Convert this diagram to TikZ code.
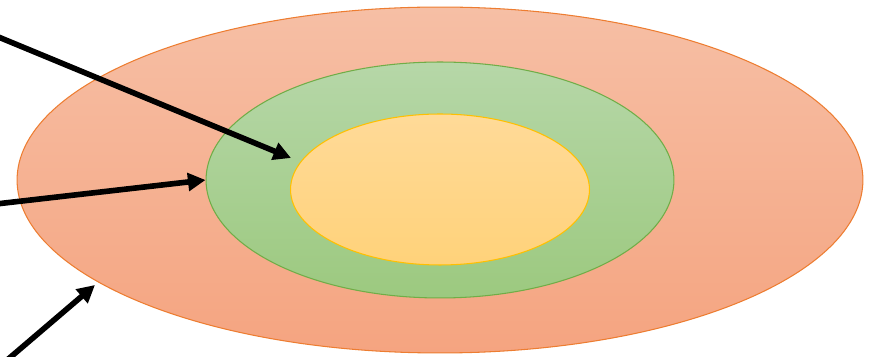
\documentclass[tikz,border=0pt]{standalone}
\usetikzlibrary{shapes.geometric,arrows.meta}
\definecolor{orline}{RGB}{237,125,49}
\definecolor{ortop}{RGB}{246,191,165}
\definecolor{orbot}{RGB}{245,164,128}
\definecolor{grline}{RGB}{112,173,71}
\definecolor{grtop}{RGB}{182,215,168}
\definecolor{grbot}{RGB}{156,201,127}
\definecolor{yeline}{RGB}{255,192,0}
\definecolor{yetop}{RGB}{255,218,152}
\definecolor{yebot}{RGB}{255,210,122}
\begin{document}
\begin{tikzpicture}[x=0.02cm,y=-0.02cm,
    ring/.style = {ellipse, draw, inner sep=0pt, line width=0.6pt},
    pointer/.style = {line width=3.2pt, -{Triangle[length=10pt,width=10pt]}}]
    \useasboundingbox (0,0) rectangle (869,357);
    \node[ring, draw=orline, top color=ortop, bottom color=orbot, minimum width=16.92cm, minimum height=6.92cm] (outer) at (440,180) {};
    \node[ring, draw=grline, top color=grtop, bottom color=grbot, minimum width=9.36cm, minimum height=4.72cm] (mid) at (440,180) {};
    \node[ring, draw=yeline, top color=yetop, bottom color=yebot, minimum width=5.98cm, minimum height=3.02cm] (inner) at (440,189.5) {};

    \coordinate (s1) at (-4,36);
    \coordinate (t1) at (291,158);
    \coordinate (s2) at (-4,204);
    \coordinate (s3) at (6,361);
    \coordinate (t3) at (95,285);

    \draw[pointer] (s1) -- (t1);
    \draw[pointer] (s2) -- (mid.west);
    \draw[pointer] (s3) -- (t3);
\end{tikzpicture}
\end{document}
